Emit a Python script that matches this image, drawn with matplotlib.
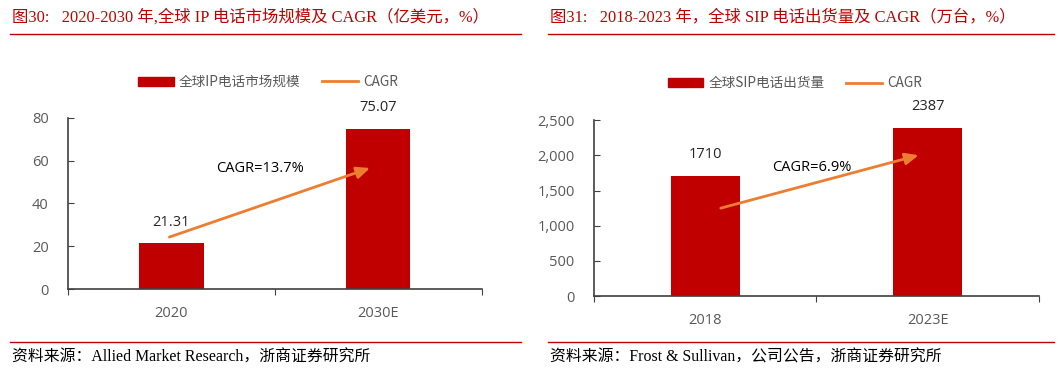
import matplotlib
matplotlib.use('Agg')
import matplotlib.pyplot as plt
from matplotlib.lines import Line2D
from matplotlib.patches import Patch

plt.rcParams['font.family'] = ['Open Sans', 'Noto Sans CJK SC', 'DejaVu Sans']

# data
cats_ip = ['2020', '2030E']
vals_ip = [21.31, 75.07]
cagr_ip = 'CAGR=13.7%'

cats_sip = ['2018', '2023E']
vals_sip = [1710, 2387]
cagr_sip = 'CAGR=6.9%'

RED = '#C00000'
ORANGE = '#ED7D31'
GRAY = '#595959'
TITLE_RED = '#C00000'
serif = ['Liberation Serif', 'Noto Sans CJK SC']
cjk = ['Noto Sans CJK SC', 'DejaVu Sans']

fig = plt.figure(figsize=(10.64, 3.71), dpi=100)


def draw_panel(rect, cats, vals, ymax, yticks, ytl, legend_name, cagr, arr, txt, lab_fmt, leg_anchor):
    ax = fig.add_axes(rect)
    x = list(range(len(cats)))
    ax.bar(x, vals, width=0.31, color=RED, zorder=2)
    ax.set_xlim(-0.5, 1.5)
    ax.set_ylim(0, ymax)
    ax.set_yticks(yticks)
    ax.set_yticklabels(ytl)
    ax.set_xticks([-0.5, 0.5, 1.5])
    ax.set_xticklabels([])
    ax.set_xticks(x, minor=True)
    ax.set_xticklabels(cats, minor=True)
    ax.tick_params(axis='x', which='major', direction='out', length=4, color='#404040')
    ax.tick_params(axis='x', which='minor', length=0, pad=12, labelsize=10.5, labelcolor=GRAY)
    ax.tick_params(axis='y', direction='in', length=4, pad=14, labelsize=10.5, labelcolor=GRAY, color='#404040')
    for s in ['top', 'right']:
        ax.spines[s].set_visible(False)
    for s in ['left', 'bottom']:
        ax.spines[s].set_color('#404040')
        ax.spines[s].set_linewidth(1.2)
    for xi, v in zip(x, vals):
        ax.annotate(lab_fmt(v), (xi, v), xytext=(0, 10), textcoords='offset points',
                    ha='center', va='bottom', fontsize=10.5, color='#262626')
    ax.annotate('', xy=arr[1], xytext=arr[0],
                arrowprops=dict(arrowstyle='-|>,head_length=0.8,head_width=0.35',
                                color=ORANGE, lw=2, shrinkA=0, shrinkB=0), zorder=3)
    ax.text(txt[0], txt[1], cagr, ha='center', va='center', fontsize=10.5, color='black', zorder=4)
    handles = [Patch(color=RED), Line2D([0], [0], color=ORANGE, lw=2)]
    ax.legend(handles, [legend_name, 'CAGR'], loc='center', bbox_to_anchor=leg_anchor,
              bbox_transform=fig.transFigure, ncol=2, frameon=False,
              prop={'family': cjk, 'size': 9.8}, handlelength=2.6, handleheight=0.6,
              columnspacing=1.6, handletextpad=0.4, labelcolor=GRAY)
    return ax


draw_panel([0.0639, 0.221, 0.389, 0.461], cats_ip, vals_ip, 80, [0, 20, 40, 60, 80],
           ['0', '20', '40', '60', '80'], '全球IP电话市场规模', cagr_ip,
           ((-0.01, 24.3), (0.96, 56.6)), (0.43, 56.6), lambda v: f'{v:.2f}', (0.252, 0.779))

draw_panel([0.5583, 0.202, 0.418, 0.474], cats_sip, vals_sip, 2500, [0, 500, 1000, 1500, 2000, 2500],
           ['0', '500', '1,000', '1,500', '2,000', '2,500'], '全球SIP电话出货量', cagr_sip,
           ((0.07, 1250), (0.96, 2003)), (0.48, 1832), lambda v: f'{v:d}', (0.747, 0.776))

# titles and separators
fig.text(12 / 1064, 1 - 17 / 371, '图30:   2020-2030 年,全球 IP 电话市场规模及 CAGR（亿美元，%）',
         family=serif, fontsize=11.8, color=TITLE_RED, va='center', ha='left')
fig.text(550 / 1064, 1 - 17 / 371, '图31:   2018-2023 年，全球 SIP 电话出货量及 CAGR（万台，%）',
         family=serif, fontsize=11.8, color=TITLE_RED, va='center', ha='left')
for x0, x1 in [(10, 521), (548, 1054)]:
    fig.add_artist(Line2D([x0 / 1064, x1 / 1064], [1 - 34 / 371] * 2, color=TITLE_RED, lw=1))
    fig.add_artist(Line2D([x0 / 1064, x1 / 1064], [1 - 342 / 371] * 2, color=TITLE_RED, lw=1))

fig.text(12 / 1064, 1 - 358 / 371, '资料来源：Allied Market Research，浙商证券研究所',
         family=serif, fontsize=11.4, color='black', va='center', ha='left')
fig.text(550 / 1064, 1 - 358 / 371, '资料来源：Frost & Sullivan，公司公告，浙商证券研究所',
         family=serif, fontsize=11.4, color='black', va='center', ha='left')

fig.savefig('out.png', dpi=100)
